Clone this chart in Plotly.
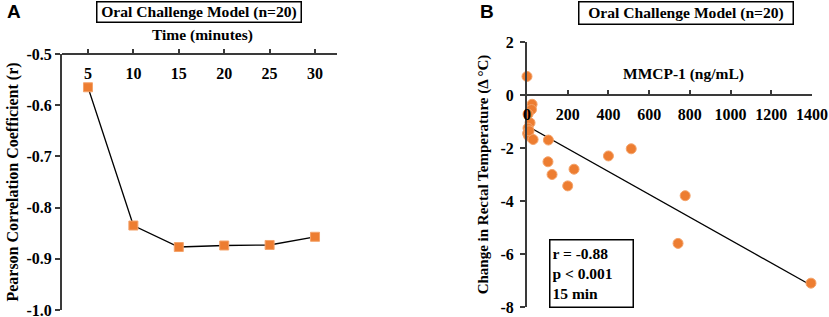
import numpy as np
import plotly.graph_objects as go

# ---- Panel A data ----
time_min = [5, 10, 15, 20, 25, 30]
pearson_r = [-0.565, -0.835, -0.877, -0.874, -0.873, -0.857]
a_xticks = [5, 10, 15, 20, 25, 30]
a_yticks = [-0.5, -0.6, -0.7, -0.8, -0.9, -1.0]
a_yticklabels = ["-0.5", "-0.6", "-0.7", "-0.8", "-0.9", "-1.0"]

# ---- Panel B data ----
mmcp1 = [0, 25, 22, 5, 15, 5, 3, 8, 10, 30, 105, 400, 512, 103, 123, 231, 200, 777, 742, 1395]
delta_temp = [0.7, -0.35, -0.55, -0.72, -1.05, -1.25, -1.45, -1.55, -1.35, -1.68, -1.7,
              -2.3, -2.03, -2.52, -3.0, -2.8, -3.43, -3.8, -5.6, -7.1]
b_xticks = [0, 200, 400, 600, 800, 1000, 1200, 1400]
b_yticks = [2, 0, -2, -4, -6, -8]
b_yticklabels = ["2", "0", "-2", "-4", "-6", "-8"]

W, H = 829, 317
ORANGE = "#ED7D31"
SERIF = "Liberation Serif, Times New Roman, serif"
AXC = "#3a3a3a"

slope, intercept = np.polyfit(mmcp1, delta_temp, 1)
trend_x = [0, max(mmcp1)]
trend_y = [intercept + slope * v for v in trend_x]

fig = go.Figure()

fig.add_trace(go.Scatter(
    x=time_min, y=pearson_r, mode="lines+markers",
    line=dict(color="black", width=1.3),
    marker=dict(symbol="square", size=9, color=ORANGE, line=dict(color="#F4A36A", width=1)),
    xaxis="x", yaxis="y", cliponaxis=False, showlegend=False))

fig.add_trace(go.Scatter(
    x=trend_x, y=trend_y, mode="lines",
    line=dict(color="black", width=1.3),
    xaxis="x2", yaxis="y2", cliponaxis=False, showlegend=False))

fig.add_trace(go.Scatter(
    x=mmcp1, y=delta_temp, mode="markers",
    marker=dict(symbol="circle", size=10, color=ORANGE, line=dict(color="#F4A36A", width=1)),
    xaxis="x2", yaxis="y2", cliponaxis=False, showlegend=False))

tickfont = dict(family=SERIF, size=16, color="black", weight="bold")

# domains (paper fractions)
ax_dom = [62 / W, 337 / W]
ay_dom = [1 - 310 / H, 1 - 54 / H]
bx_dom = [527 / W, 812 / W]
by_dom = [1 - 307 / H, 1 - 42 / H]
b_range = [-8, 2]
bx_pos = by_dom[0] + (0 - b_range[0]) / (b_range[1] - b_range[0]) * (by_dom[1] - by_dom[0])

common = dict(showline=True, linecolor=AXC, linewidth=2, showgrid=False, zeroline=False,
              tickfont=tickfont, tickwidth=1.5, tickcolor=AXC, automargin=False,
              ticklabeloverflow="allow")

fig.update_layout(
    width=W, height=H,
    margin=dict(l=0, r=0, t=0, b=0),
    paper_bgcolor="white", plot_bgcolor="white",
    xaxis=dict(domain=ax_dom, range=[2.14, 32.42], side="bottom", anchor="free", position=ay_dom[1],
               tickvals=a_xticks + [32.42], ticktext=[str(v) for v in a_xticks] + [""],
               ticks="inside", ticklen=4, ticklabelstandoff=5, **common),
    yaxis=dict(domain=ay_dom, range=[-1.0, -0.5], anchor="x",
               tickvals=a_yticks, ticktext=a_yticklabels,
               ticks="outside", ticklen=5, **common,
               title=dict(text="Pearson Correlation Coefficient (r)",
                          font=dict(family=SERIF, size=16, color="black", weight="bold"),
                          standoff=4)),
    xaxis2=dict(domain=bx_dom, range=[0, 1400], side="bottom", anchor="free", position=bx_pos,
                tickvals=b_xticks, ticktext=[str(v) for v in b_xticks],
                ticks="inside", ticklen=4, ticklabelstandoff=5, **common),
    yaxis2=dict(domain=by_dom, range=b_range, anchor="x2",
                tickvals=b_yticks, ticktext=b_yticklabels,
                ticks="outside", ticklen=5, ticklabelstandoff=3, **common,
                title=dict(text="Change in Rectal Temperature (\u0394 \u00b0C)",
                           font=dict(family=SERIF, size=15, color="black", weight="bold"),
                           standoff=8)),
)

axtitlefont = dict(family=SERIF, size=15.5, color="black", weight="bold")
fig.add_annotation(xref="paper", yref="paper", x=202 / W, y=1 - 35 / H, text="Time (minutes)",
                   showarrow=False, font=axtitlefont, xanchor="center", yanchor="middle")
fig.add_annotation(xref="paper", yref="paper", x=683 / W, y=1 - 74 / H, text="MMCP-1 (ng/mL)",
                   showarrow=False, font=axtitlefont, xanchor="center", yanchor="middle")

boxfont = dict(family=SERIF, size=15.6, color="black", weight="bold")
fig.add_annotation(xref="paper", yref="paper", x=198.5 / W, y=1 - 12 / H,
                   text="Oral Challenge Model (n=20)", showarrow=False, font=boxfont,
                   bordercolor="black", borderwidth=1.5, borderpad=0, width=203, height=19,
                   bgcolor="white", xanchor="center", yanchor="middle")
fig.add_annotation(xref="paper", yref="paper", x=685.5 / W, y=1 - 13.5 / H,
                   text="Oral Challenge Model (n=20)", showarrow=False, font=boxfont,
                   bordercolor="black", borderwidth=1.5, borderpad=0, width=213, height=21,
                   bgcolor="white", xanchor="center", yanchor="middle")
labfont = dict(family="Liberation Sans, Arial, sans-serif", size=19, color="black", weight="bold")
fig.add_annotation(xref="paper", yref="paper", x=14 / W, y=1 - 12 / H, text="A",
                   showarrow=False, font=labfont, xanchor="center", yanchor="middle")
fig.add_annotation(xref="paper", yref="paper", x=487 / W, y=1 - 12 / H, text="B",
                   showarrow=False, font=labfont, xanchor="center", yanchor="middle")
fig.add_annotation(xref="paper", yref="paper", x=549 / W, y=1 - 239 / H,
                   text="r = -0.88<br>p < 0.001<br>15 min", showarrow=False, align="left",
                   font=dict(family=SERIF, size=15.5, color="black", weight="bold"),
                   bordercolor="black", borderwidth=1.5, borderpad=2, width=78, height=62,
                   bgcolor="white", xanchor="left", yanchor="top")

fig.write_html("out.html", config={"displayModeBar": False},
               post_script="document.body.style.margin='0';document.body.style.overflow='hidden';")
